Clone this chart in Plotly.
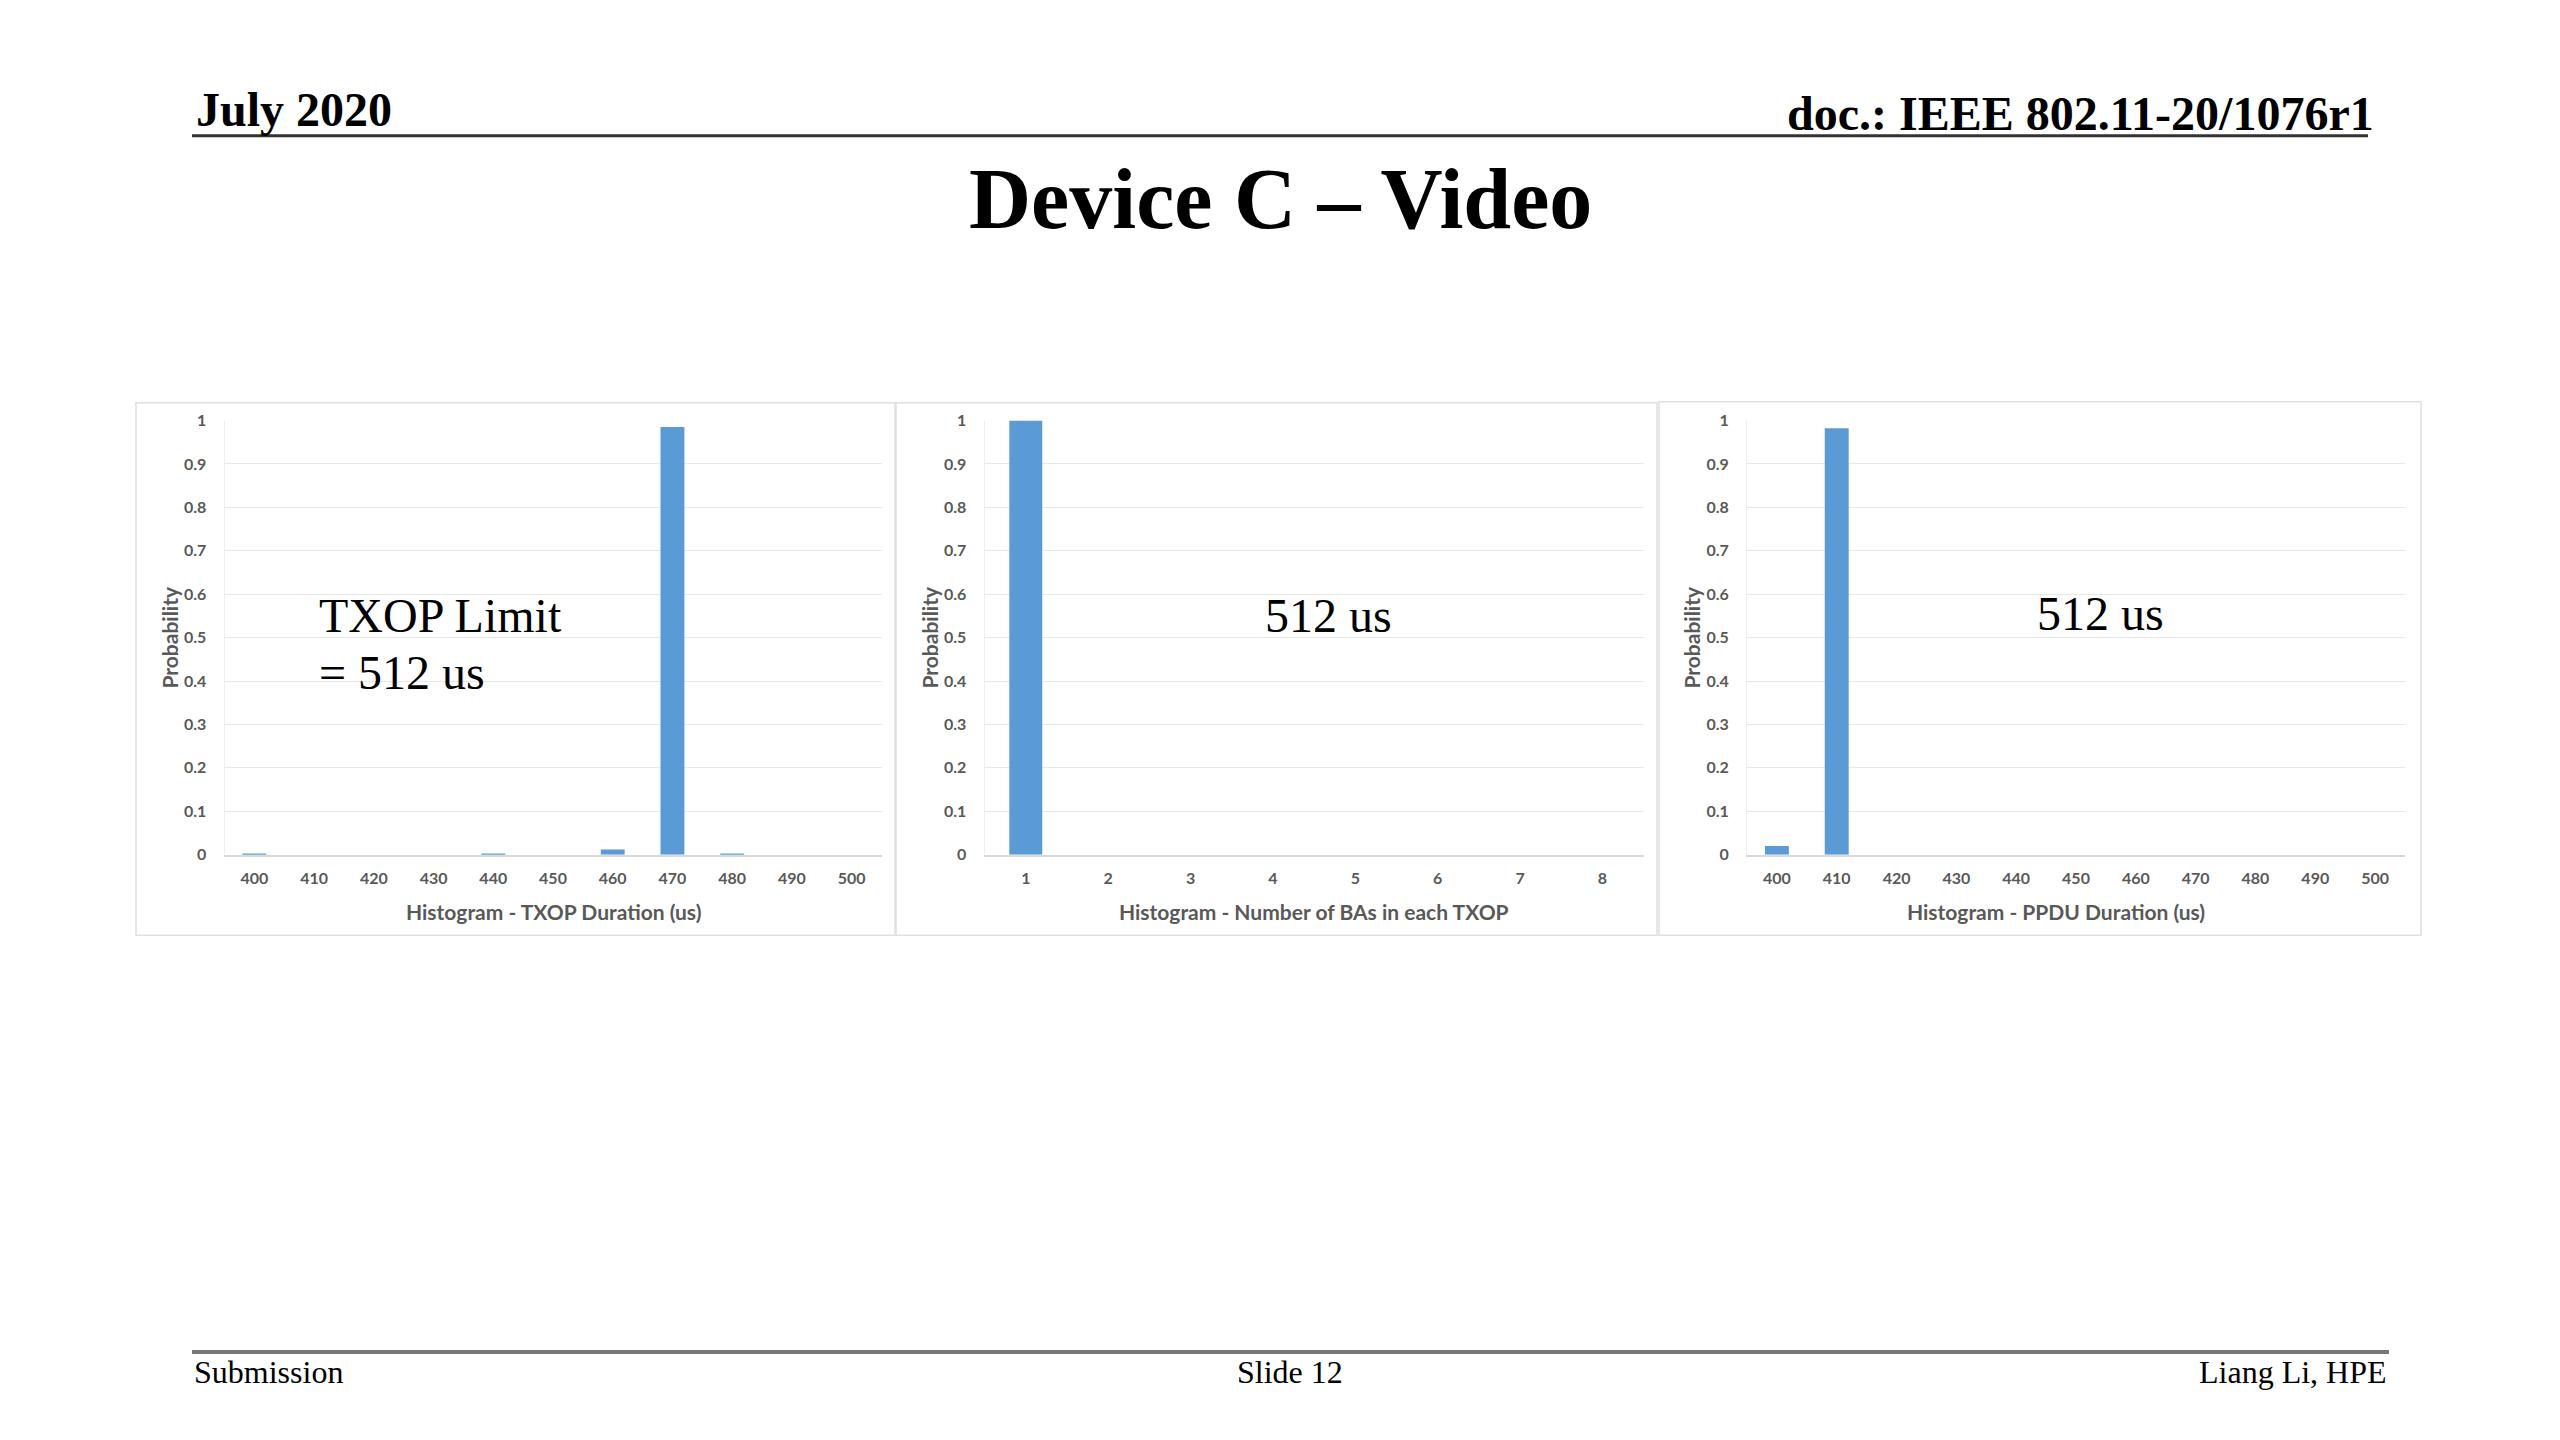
import plotly.graph_objects as go

# ---------------- data ----------------
txop_cats = ["400", "410", "420", "430", "440", "450", "460", "470", "480", "490", "500"]
txop_prob = [0.002, 0, 0, 0, 0.002, 0, 0.012, 0.985, 0.002, 0, 0]

ba_cats = ["1", "2", "3", "4", "5", "6", "7", "8"]
ba_prob = [1.0, 0, 0, 0, 0, 0, 0, 0]

ppdu_cats = ["400", "410", "420", "430", "440", "450", "460", "470", "480", "490", "500"]
ppdu_prob = [0.02, 0.982, 0, 0, 0, 0, 0, 0, 0, 0, 0]

y_ticks = [0, 0.1, 0.2, 0.3, 0.4, 0.5, 0.6, 0.7, 0.8, 0.9, 1]
y_ticklabels = ["0", "0.1", "0.2", "0.3", "0.4", "0.5", "0.6", "0.7", "0.8", "0.9", "1"]

x_titles = ["Histogram - TXOP Duration (us)",
            "Histogram - Number of BAs in each TXOP",
            "Histogram - PPDU Duration (us)"]
note_lines = [["TXOP Limit", "= 512 us"], ["512 us"], ["512 us"]]

# ---------------- layout helpers ----------------
W, H = 2560, 1440
def px(x):
    return x / W
def py(y):
    return 1 - y / H

BAR = "#5B9BD5"
GRID = "#e8e8e8"
AXC = "#595959"
SERIF = "Liberation Serif, Times New Roman, serif"
SANS = "Lato, Open Sans, sans-serif"

fig = go.Figure()

panels = [
    dict(cats=txop_cats, vals=txop_prob, x0=224.5, x1=881.5, box=(136, 398, 895, 937.5),
         ytitle_x=170, xtitle_x=553, note_x=317, note_y=[614, 671], note_anchor="left"),
    dict(cats=ba_cats, vals=ba_prob, x0=984.6, x1=1643.6, box=(896, 398, 1657, 937.5),
         ytitle_x=930, xtitle_x=1314, note_x=1328, note_y=[613.5], note_anchor="center"),
    dict(cats=ppdu_cats, vals=ppdu_prob, x0=1747, x1=2405, box=(1659, 397, 2421, 937.5),
         ytitle_x=1692, xtitle_x=2056, note_x=2100, note_y=[611.5], note_anchor="center"),
]

y_top, y_bot = 416, 856

shapes = []
annotations = []

for i, p in enumerate(panels):
    n = i + 1
    xa = "x" if n == 1 else f"x{n}"
    ya = "y" if n == 1 else f"y{n}"
    fig.add_trace(go.Bar(x=p["cats"], y=p["vals"], marker=dict(color=BAR, line=dict(width=0)),
                         xaxis=xa, yaxis=ya, showlegend=False, hoverinfo="x+y"))
    xkey = "xaxis" if n == 1 else f"xaxis{n}"
    ykey = "yaxis" if n == 1 else f"yaxis{n}"
    fig.update_layout(**{
        xkey: dict(domain=[px(p["x0"]), px(p["x1"])], anchor=ya, type="category",
                   range=[-0.5, len(p["cats"]) - 0.5], showgrid=False, zeroline=False,
                   showline=True, linecolor="#d9d9d9", linewidth=1.5, ticks="",
                   tickfont=dict(family=SANS, size=16, color=AXC, weight="bold"),
                   ticklabelstandoff=8, fixedrange=True),
        ykey: dict(domain=[py(y_bot), py(y_top)], anchor=xa, range=[0, 1],
                   tickvals=y_ticks, ticktext=y_ticklabels, showgrid=True, gridcolor=GRID,
                   gridwidth=1, zeroline=False, showline=True, linecolor="#efefef",
                   linewidth=1, ticks="",
                   tickfont=dict(family=SANS, size=16, color=AXC, weight="bold"),
                   ticklabelstandoff=14, fixedrange=True),
    })
    bx0, by0, bx1, by1 = p["box"]
    shapes.append(dict(type="rect", xref="paper", yref="paper", x0=px(bx0), x1=px(bx1),
                       y0=py(by1), y1=py(by0), line=dict(color="#e0e0e0", width=1.5),
                       fillcolor="rgba(0,0,0,0)", layer="below"))
    annotations.append(dict(text=x_titles[i], xref="paper", yref="paper", x=px(p["xtitle_x"]),
                            y=py(914), xanchor="center", yanchor="middle", showarrow=False,
                            font=dict(family=SANS, size=21, color=AXC, weight="bold")))
    annotations.append(dict(text="Probability", xref="paper", yref="paper", x=px(p["ytitle_x"]),
                            y=py(636), xanchor="center", yanchor="middle", showarrow=False,
                            textangle=-90,
                            font=dict(family=SANS, size=21, color=AXC, weight="bold")))
    for line_text, ly in zip(note_lines[i], p["note_y"]):
        annotations.append(dict(text=line_text, xref="paper", yref="paper", x=px(p["note_x"]),
                                y=py(ly), xanchor=p["note_anchor"], yanchor="middle",
                                showarrow=False,
                                font=dict(family=SERIF, size=48, color="black")))

# header / footer
annotations += [
    dict(text="<b>July 2020</b>", xref="paper", yref="paper", x=px(194), y=py(101),
         xanchor="left", yanchor="middle", showarrow=False,
         font=dict(family=SERIF, size=48, color="black")),
    dict(text="<b>doc.: IEEE 802.11-20/1076r1</b>", xref="paper", yref="paper", x=px(2376),
         y=py(105), xanchor="right", yanchor="middle", showarrow=False,
         font=dict(family=SERIF, size=48, color="black")),
    dict(text="<b>Device C – Video</b>", xref="paper", yref="paper", x=px(1280), y=py(192),
         xanchor="center", yanchor="middle", showarrow=False,
         font=dict(family=SERIF, size=86, color="black")),
    dict(text="Submission", xref="paper", yref="paper", x=px(192), y=py(1380),
         xanchor="left", yanchor="middle", showarrow=False,
         font=dict(family=SERIF, size=32, color="black")),
    dict(text="Slide 12", xref="paper", yref="paper", x=px(1290), y=py(1380),
         xanchor="center", yanchor="middle", showarrow=False,
         font=dict(family=SERIF, size=32, color="black")),
    dict(text="Liang Li, HPE", xref="paper", yref="paper", x=px(2389), y=py(1380),
         xanchor="right", yanchor="middle", showarrow=False,
         font=dict(family=SERIF, size=32, color="black")),
]
shapes += [
    dict(type="line", xref="paper", yref="paper", x0=px(192), x1=px(2368), y0=py(127.5), y1=py(127.5),
         line=dict(color="#333333", width=3)),
    dict(type="line", xref="paper", yref="paper", x0=px(192), x1=px(2389), y0=py(1360), y1=py(1360),
         line=dict(color="#777777", width=4)),
]

fig.update_layout(width=W, height=H, margin=dict(l=0, r=0, t=0, b=0),
                  paper_bgcolor="white", plot_bgcolor="white",
                  bargap=0.6, shapes=shapes, annotations=annotations, showlegend=False)

fig.write_html("out.html", config={"displayModeBar": False},
               post_script="document.body.style.margin='0px';document.body.style.overflow='hidden';")
